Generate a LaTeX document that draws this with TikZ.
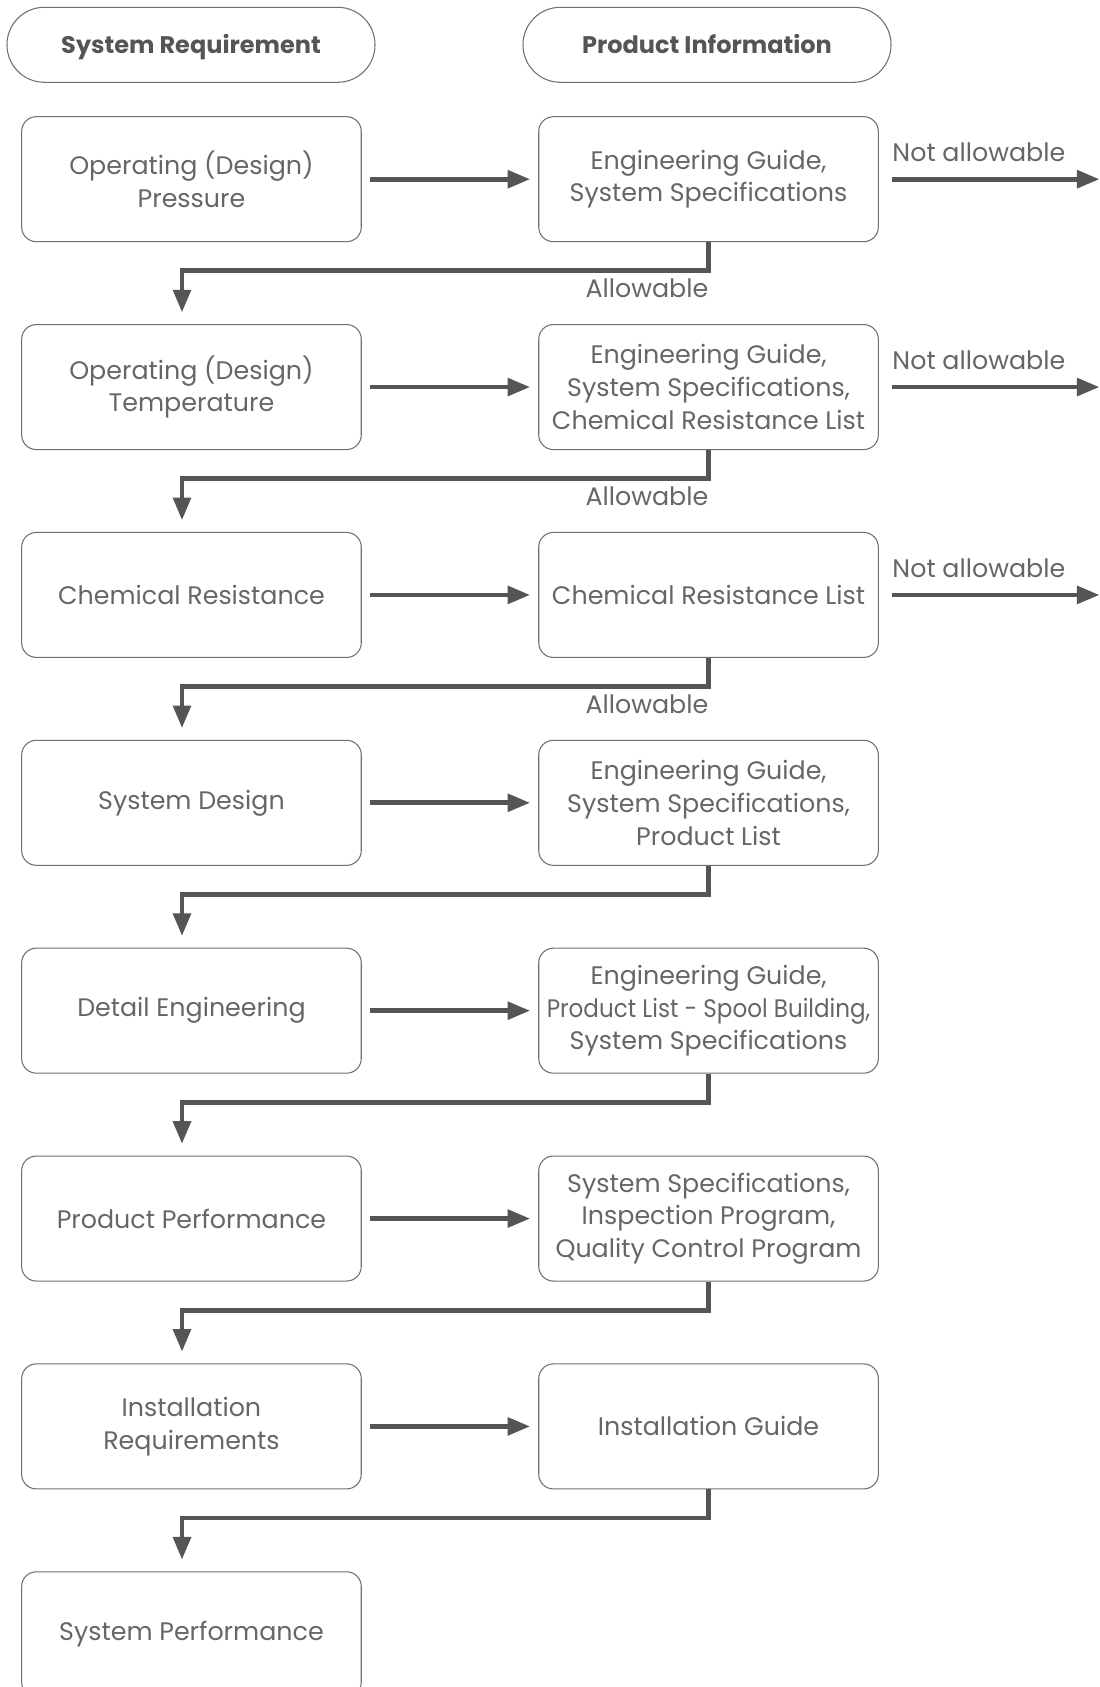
\documentclass[tikz,border=0pt]{standalone}
\usepackage{fontspec}
\setmainfont{Poppins}
\usepackage{xcolor}
\usepackage{graphicx}
\usepackage{tikz}
\usetikzlibrary{positioning,arrows.meta}

\definecolor{linegray}{HTML}{555555}
\definecolor{boxgray}{HTML}{707070}
\definecolor{textgray}{HTML}{666666}
\definecolor{headgray}{HTML}{555555}

\begin{document}
\begin{tikzpicture}[
    head/.style={rectangle, draw=boxgray, line width=0.8pt, rounded corners=28pt, minimum width=276pt, minimum height=56.25pt, text height=12.5pt, text depth=0pt, font=\bfseries\fontsize{18}{22}\selectfont, text=headgray},
    stepbox/.style={rectangle, draw=boxgray, line width=0.8pt, rounded corners=11pt, minimum width=254.7pt, minimum height=93.75pt, inner sep=2pt, align=center, font=\fontsize{19}{24.5}\selectfont, text=textgray},
    arrow/.style={-{Triangle[length=17pt,width=13pt]}, line width=3.6pt, draw=linegray},
    lbl/.style={font=\fontsize{19}{24}\selectfont, text=textgray, inner sep=0pt},
    node distance=61.35pt and 132.3pt
]
\useasboundingbox (0,0) rectangle (824.25pt,-1265.25pt);

\node[head] (hreq) at (143.25pt,-33.6pt) {System Requirement};
\node[head] (hinfo) at (530.25pt,-33.6pt) {Product Information};

\node[stepbox] (s1) at (143.6pt,-134.4pt) {Operating (Design)\\Pressure};
\node[stepbox, right=of s1] (p1) {Engineering Guide,\\System Specifications};

\node[stepbox, below=of s1] (s2) {Operating (Design)\\Temperature};
\node[stepbox, right=of s2] (p2) {Engineering Guide,\\System Specifications,\\Chemical Resistance List};

\node[stepbox, below=of s2] (s3) {Chemical Resistance};
\node[stepbox, right=of s3] (p3) {Chemical Resistance List};

\node[stepbox, below=of s3] (s4) {System Design};
\node[stepbox, right=of s4] (p4) {Engineering Guide,\\System Specifications,\\Product List};

\node[stepbox, below=of s4] (s5) {Detail Engineering};
\node[stepbox, right=of s5] (p5) {Engineering Guide,\\\scalebox{0.91}[1]{Product List - Spool Building,}\\System Specifications};

\node[stepbox, below=of s5] (s6) {Product Performance};
\node[stepbox, right=of s6] (p6) {System Specifications,\\Inspection Program,\\Quality Control Program};

\node[stepbox, below=of s6] (s7) {Installation\\Requirements};
\node[stepbox, right=of s7] (p7) {Installation Guide};

\node[stepbox, below=of s7] (s8) {System Performance};

% requirement -> product information
\foreach \i in {1,...,7}
  \draw[arrow] ([xshift=6.5pt]s\i.east) -- ([xshift=-6pt]p\i.west);

% back to the next requirement
\foreach \i [evaluate=\i as \j using int(\i+1)] in {1,...,7}
  \draw[arrow] (p\i.south) -- ++(0,-21.4pt) coordinate (c\i) -| ([xshift=-7.1pt,yshift=8.7pt]s\j.north);

% allowable / not allowable
\foreach \i in {1,2,3} {
  \node[lbl, anchor=base east] (ok\i) at ([yshift=-20pt]c\i) {Allowable};
  \coordinate (out\i) at ([xshift=165.5pt]p\i.east);
  \draw[arrow] ([xshift=10pt]p\i.east) -- (out\i);
  \node[lbl, anchor=base west] (no\i) at ([xshift=10pt,yshift=13pt]p\i.east) {Not allowable};
}

\end{tikzpicture}
\end{document}
